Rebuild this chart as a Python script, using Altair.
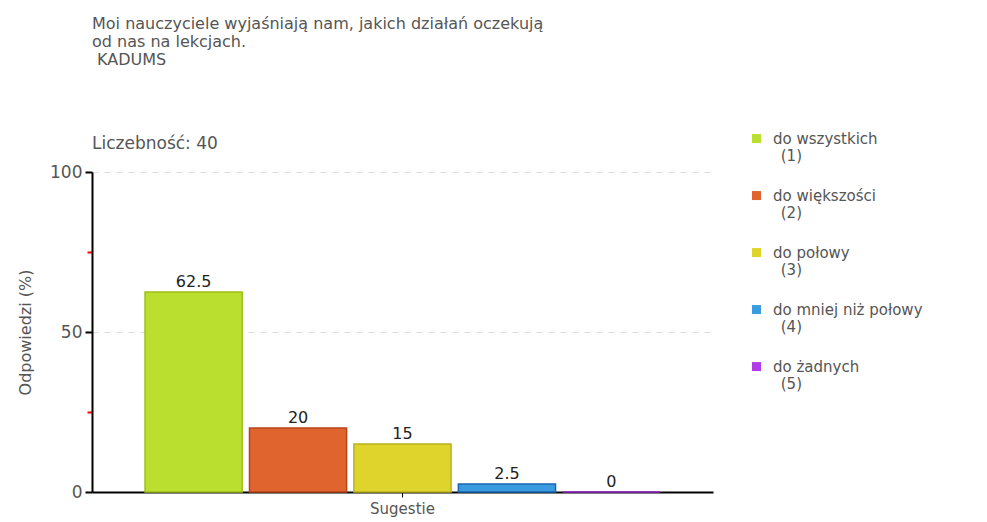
import altair as alt
import pandas as pd

series = ["do wszystkich\n\u200b\u00a0\u2009(1)", "do większości\n\u200b\u00a0\u2009(2)",
          "do połowy\n\u200b\u00a0\u2009(3)", "do mniej niż połowy\n\u200b\u00a0\u2009(4)",
          "do żadnych\n\u200b\u00a0\u2009(5)"]
values = [62.5, 20, 15, 2.5, 0]
value_labels = ["62.5", "20", "15", "2.5", "0"]
group = "Sugestie"
fills = ["#BBDF2E", "#E0642E", "#DFD42B", "#3A9BE0", "#B23BE8"]
strokes = ["#9DBF1A", "#B5461A", "#BBB020", "#1667B0", "#9A22D0"]

df = pd.DataFrame({"group": [group] * len(series), "series": series,
                   "value": values, "label": value_labels})

FONT = "DejaVu Sans"

x = alt.X("group:N", scale=alt.Scale(paddingOuter=0.103, paddingInner=0),
          axis=alt.Axis(title=None, labelAngle=0, labelFontSize=15, labelColor="#555",
                        labelFont=FONT, tickSize=5, tickColor="#000", domainColor="#000",
                        domainWidth=2, labelPadding=4, grid=False))
xo = alt.XOffset("series:N", sort=series, scale=alt.Scale(paddingInner=0.07, paddingOuter=0))
y = alt.Y("value:Q", scale=alt.Scale(domain=[0, 100], nice=False),
          axis=alt.Axis(title="Odpowiedzi (%)", values=[0, 25, 50, 75, 100],
                        labelExpr="datum.value % 50 == 0 ? datum.label : ''",
                        tickColor={"condition": {"test": "datum.value % 50 != 0", "value": "red"}, "value": "#000"},
                        tickSize={"condition": {"test": "datum.value % 50 != 0", "value": 5}, "value": 7},
                        gridOpacity={"condition": {"test": "datum.value % 50 != 0", "value": 0}, "value": 1},
                        gridColor="#dddddd", gridDash=[6, 6], grid=True,
                        domainColor="#000", domainWidth=2, tickWidth=2,
                        labelFontSize=17, labelColor="#555", labelFont=FONT, labelPadding=3,
                        titleFontSize=16, titleFontWeight="normal", titleColor="#555",
                        titleFont=FONT, titlePadding=16))

bars = alt.Chart(df).mark_bar(strokeWidth=1.5).encode(
    x=x, xOffset=xo, y=y,
    color=alt.Color("series:N", sort=series,
                    scale=alt.Scale(domain=series, range=fills),
                    legend=alt.Legend(title=None, orient="none", legendX=657, legendY=-36,
                                      symbolType="M-1,-2.1H1V-0.1H-1Z", symbolSize=81,
                                      symbolStrokeWidth=0,
                                      labelExpr="split(datum.label, '\\n')",
                                      labelFontSize=15, labelColor="#555", labelFont=FONT,
                                      labelBaseline="alphabetic", labelOffset=9, labelLimit=300,
                                      rowPadding=24)),
    stroke=alt.Stroke("series:N", sort=series, scale=alt.Scale(domain=series, range=strokes),
                      legend=None),
)

texts = alt.Chart(df).mark_text(dy=-10, fontSize=16, font=FONT, color="#222").encode(
    x=x, xOffset=xo, y=y, text="label:N")

chart = alt.layer(bars, texts).properties(
    width=621, height=320,
    autosize=alt.AutoSizeParams(type="none"),
    padding={"left": 84, "top": 164, "right": 265, "bottom": 25},
    title=alt.TitleParams(
        text=["Moi nauczyciele wyjaśniają nam, jakich działań oczekują", "od nas na lekcjach.",
              "\u200b\u00a0KADUMS"],
        subtitle="Liczebność: 40",
        anchor="start", frame="group", fontSize=16, lineHeight=18, color="#555",
        font=FONT, fontWeight="normal", subtitleFontSize=17, subtitleColor="#555",
        subtitleFont=FONT, subtitlePadding=68, offset=-16),
).configure_view(stroke=None)

chart.save("out.html", embed_options={"renderer": "svg", "actions": False})
